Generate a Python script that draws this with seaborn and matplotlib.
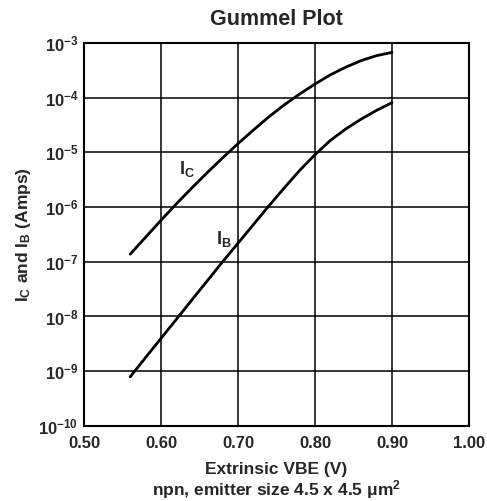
import seaborn as sns
import matplotlib.pyplot as plt
import pandas as pd
import numpy as np

# data (VBE in volts, currents in amps)
vbe = [0.56, 0.58, 0.60, 0.62, 0.64, 0.66, 0.68, 0.70, 0.72,
       0.74, 0.76, 0.78, 0.80, 0.82, 0.84, 0.86, 0.88, 0.90]
ic = [1.38e-7, 2.82e-7, 5.75e-7, 1.15e-6, 2.24e-6, 4.27e-6, 7.94e-6, 1.45e-5, 2.57e-5,
      4.47e-5, 7.41e-5, 1.17e-4, 1.78e-4, 2.63e-4, 3.63e-4, 4.79e-4, 5.89e-4, 6.76e-4]
ib = [7.9e-10, 1.78e-9, 3.98e-9, 8.9e-9, 2.0e-8, 4.47e-8, 1.0e-7, 2.19e-7, 4.79e-7,
      1.05e-6, 2.24e-6, 4.68e-6, 9.1e-6, 1.66e-5, 2.69e-5, 4.07e-5, 5.89e-5, 8.13e-5]

x_ticks = [0.5, 0.6, 0.7, 0.8, 0.9, 1.0]
x_labels = ['0.50', '0.60', '0.70', '0.80', '0.90', '1.00']
y_ticks = [1e-10, 1e-9, 1e-8, 1e-7, 1e-6, 1e-5, 1e-4, 1e-3]
y_labels = [r'$\mathbf{10^{-%d}}$' % k for k in [10, 9, 8, 7, 6, 5, 4, 3]]

df = pd.DataFrame({'vbe': vbe + vbe, 'amps': ic + ib,
                   'curve': ['IC'] * len(vbe) + ['IB'] * len(vbe)})

sns.set_style('white')
plt.rcParams['font.family'] = ['Liberation Sans', 'DejaVu Sans']
plt.rcParams['font.weight'] = 'bold'
plt.rcParams['mathtext.fontset'] = 'custom'
plt.rcParams['mathtext.rm'] = 'Liberation Sans:bold'
plt.rcParams['mathtext.it'] = 'Liberation Sans:bold'
plt.rcParams['mathtext.bf'] = 'Liberation Sans:bold'

fig = plt.figure(figsize=(4.87, 5.01), dpi=100)
ax = fig.add_axes([0.1725, 0.150, 0.7905, 0.764])

sns.lineplot(data=df, x='vbe', y='amps', units='curve', estimator=None,
             color='black', lw=2, ax=ax)

ax.set_yscale('log')
ax.set_xlim(0.5, 1.0)
ax.set_ylim(1e-10, 1e-3)
ax.set_xticks(x_ticks, labels=x_labels)
ax.set_yticks(y_ticks, labels=y_labels)
ax.minorticks_off()
ax.tick_params(axis='both', length=0, labelsize=12)
ax.tick_params(axis='x', pad=7)
ax.tick_params(axis='y', pad=4)
for lab in ax.get_xticklabels():
    lab.set_fontweight('bold')
ax.grid(True, color='black', lw=1.1)
for s in ax.spines.values():
    s.set_color('black')
    s.set_linewidth(1.5)

ax.text(0.623, 4.9e-6, r'$\mathbf{I_C}$', fontsize=13, va='center', ha='left')
ax.text(0.672, 2.6e-7, r'$\mathbf{I_B}$', fontsize=13, va='center', ha='left')

ax.set_title('Gummel Plot', fontsize=15.5, fontweight='bold', pad=13)
ax.set_xlabel('Extrinsic VBE (V)\nnpn, emitter size 4.5 x 4.5 μm$^\\mathbf{2}$',
              fontsize=12.5, fontweight='bold', labelpad=8, linespacing=1.1)
ax.set_ylabel(r'$\mathbf{I_C}$ and $\mathbf{I_B}$ (Amps)', fontsize=12.5,
              fontweight='bold', labelpad=4)

fig.savefig('out.png', dpi=100)
